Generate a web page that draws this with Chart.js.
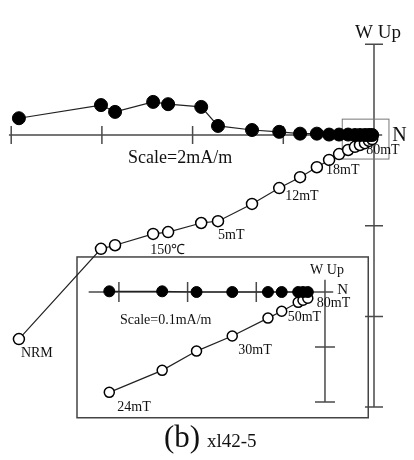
<!DOCTYPE html>
<html>
<head>
<meta charset="utf-8">
<script src="https://cdn.jsdelivr.net/npm/chart.js@4.4.1/dist/chart.umd.min.js"></script>
<style>
  html, body { margin: 0; padding: 0; background: #fff; }
  #wrap { position: relative; width: 414px; height: 460px; }
</style>
</head>
<body>
<div id="wrap"><canvas id="zij"></canvas></div>
<script>
// main diagram (mA/m): N component, W (horizontal projection), Up (vertical projection)
const nMain = [-7.83, -6.02, -5.71, -4.87, -4.54, -3.81, -3.44, -2.69, -2.09, -1.63,
               -1.26, -0.99, -0.77, -0.57, -0.42, -0.31, -0.20, -0.11, -0.04];
const wMain = [0.37, 0.66, 0.51, 0.73, 0.68, 0.62, 0.20, 0.11, 0.07, 0.03,
               0.03, 0.01, 0.01, 0.01, 0, 0, 0, 0, 0];
const upMain = [-4.50, -2.51, -2.43, -2.18, -2.14, -1.94, -1.90, -1.52, -1.17, -0.93,
                -0.71, -0.55, -0.42, -0.33, -0.26, -0.22, -0.18, -0.13, -0.09];
// text, step index, dx, dy
const mainLabels = [["NRM", 0, 2, 14], ["150\u2103", 3, -3, 16], ["5mT", 6, 0, 14],
                    ["12mT", 8, 6, 8], ["18mT", 11, -3, 10], ["80mT", 18, -6, 11]];
const mainTicksX = [-8, -6, -4, -2];
const mainTicksY = [2, -2, -4, -6];

// inset (24mT - 80mT), mA/m
const nInset = [-0.314, -0.237, -0.187, -0.135, -0.083, -0.063, -0.039, -0.032, -0.025];
const wInset = [0.001, 0.001, 0, 0, 0, 0, 0, 0, 0];
const upInset = [-0.146, -0.114, -0.086, -0.064, -0.038, -0.028, -0.015, -0.012, -0.009];
const insetLabels = [["24mT", 0, 8, 15], ["30mT", 3, 6, 14], ["50mT", 5, 6, 6], ["80mT", 8, 9, 5]];
const insetTicksX = [-0.3, -0.2, -0.1];
const insetTicksY = [-0.08, -0.16];

const pts = (xs, ys) => xs.map((x, i) => ({ x: x, y: ys[i] }));
const serif = "Liberation Serif, Times New Roman, serif";

function drawAxes(ctx, sx, sy, o) {
  const x0 = sx.getPixelForValue(0), y0 = sy.getPixelForValue(0);
  ctx.save();
  ctx.strokeStyle = "#4a4a4a";
  ctx.lineWidth = 1.5;
  ctx.beginPath();
  ctx.moveTo(sx.getPixelForValue(o.xFrom), y0);
  ctx.lineTo(sx.getPixelForValue(o.xTo), y0);
  ctx.moveTo(x0, sy.getPixelForValue(o.yFrom));
  ctx.lineTo(x0, sy.getPixelForValue(o.yTo));
  o.ticksX.forEach(v => {
    const px = sx.getPixelForValue(v);
    ctx.moveTo(px, y0 - o.tick);
    ctx.lineTo(px, y0 + o.tick);
  });
  o.ticksY.forEach(v => {
    const py = sy.getPixelForValue(v);
    ctx.moveTo(x0 - o.tick, py);
    ctx.lineTo(x0 + o.tick, py);
  });
  ctx.stroke();
  ctx.restore();
}

function drawBox(ctx, sx, sy, b, color, w) {
  ctx.save();
  ctx.strokeStyle = color;
  ctx.lineWidth = w;
  const l = sx.getPixelForValue(b[0]), r = sx.getPixelForValue(b[1]);
  const t = sy.getPixelForValue(b[2]), btm = sy.getPixelForValue(b[3]);
  ctx.strokeRect(l, t, r - l, btm - t);
  ctx.restore();
}

function text(ctx, s, x, y, size, align) {
  ctx.font = size + "px " + serif;
  ctx.textAlign = align || "left";
  ctx.textBaseline = "middle";
  ctx.fillText(s, x, y);
}

const zijPlugin = {
  id: "zij",
  beforeDatasetsDraw(chart) {
    const ctx = chart.ctx, s = chart.scales;
    drawAxes(ctx, s.x, s.y, { xFrom: -8.05, xTo: 0.18, yFrom: 2, yTo: -6,
      ticksX: mainTicksX, ticksY: mainTicksY, tick: 9 });
    drawAxes(ctx, s.x2, s.y2, { xFrom: -0.344, xTo: 0.012, yFrom: 0.018, yTo: -0.16,
      ticksX: insetTicksX, ticksY: insetTicksY, tick: 10 });
    // zoomed region on main plot, and inset frame
    drawBox(ctx, s.x, s.y, [-0.7, 0.33, 0.35, -0.53], "#777", 1);
    drawBox(ctx, s.x2, s.y2, [-0.361, 0.063, 0.051, -0.183], "#444", 1.5);
  },
  afterDatasetsDraw(chart) {
    const ctx = chart.ctx, s = chart.scales;
    ctx.save();
    ctx.fillStyle = "#111";
    mainLabels.forEach(([t, i, dx, dy]) => {
      text(ctx, t, s.x.getPixelForValue(nMain[i]) + dx, s.y.getPixelForValue(upMain[i]) + dy, 14);
    });
    insetLabels.forEach(([t, i, dx, dy]) => {
      text(ctx, t, s.x2.getPixelForValue(nInset[i]) + dx, s.y2.getPixelForValue(upInset[i]) + dy, 14);
    });
    const mx = s.x.getPixelForValue(0), my = s.y.getPixelForValue(0);
    text(ctx, "W Up", mx + 4, s.y.getPixelForValue(2) - 11, 19, "center");
    text(ctx, "N", s.x.getPixelForValue(0.18) + 10, my + 1, 20);
    text(ctx, "Scale=2mA/m", 128, my + 23, 18);
    const ix = s.x2.getPixelForValue(0), iy = s.y2.getPixelForValue(0);
    text(ctx, "W Up", ix + 2, s.y2.getPixelForValue(0.018) - 9, 14, "center");
    text(ctx, "N", s.x2.getPixelForValue(0.012) + 4, iy - 2, 15);
    text(ctx, "Scale=0.1mA/m", 120, iy + 28, 14);
    text(ctx, "(b)", 164, 439, 31);
    text(ctx, "xl42-5", 207, 442, 19);
    ctx.restore();
  }
};

const line = { showLine: true, borderColor: "#222", borderWidth: 1.2, pointBorderColor: "#000" };

new Chart(document.getElementById("zij"), {
  type: "scatter",
  data: {
    datasets: [
      Object.assign({ data: pts(nMain, wMain), xAxisID: "x", yAxisID: "y",
        pointRadius: 6.5, pointBackgroundColor: "#000", pointBorderWidth: 1 }, line),
      Object.assign({ data: pts(nMain, upMain), xAxisID: "x", yAxisID: "y",
        pointRadius: 5.5, pointBackgroundColor: "#fff", pointBorderWidth: 1.5 }, line),
      Object.assign({ data: pts(nInset, wInset), xAxisID: "x2", yAxisID: "y2",
        pointRadius: 5.5, pointBackgroundColor: "#000", pointBorderWidth: 1 }, line),
      Object.assign({ data: pts(nInset, upInset), xAxisID: "x2", yAxisID: "y2",
        pointRadius: 5, pointBackgroundColor: "#fff", pointBorderWidth: 1.5 }, line)
    ]
  },
  options: {
    responsive: true,
    maintainAspectRatio: false,
    animation: false,
    events: [],
    layout: { padding: 0, autoPadding: false },
    plugins: { legend: { display: false }, tooltip: { enabled: false } },
    scales: {
      x:  { type: "linear", display: false, min: -8.247, max: 0.882 },
      y:  { type: "linear", display: false, min: -7.166, max: 2.977 },
      x2: { type: "linear", display: false, min: -0.4731, max: 0.1296 },
      y2: { type: "linear", display: false, min: -0.2445, max: 0.4250 }
    }
  },
  plugins: [zijPlugin]
});
</script>
</body>
</html>
